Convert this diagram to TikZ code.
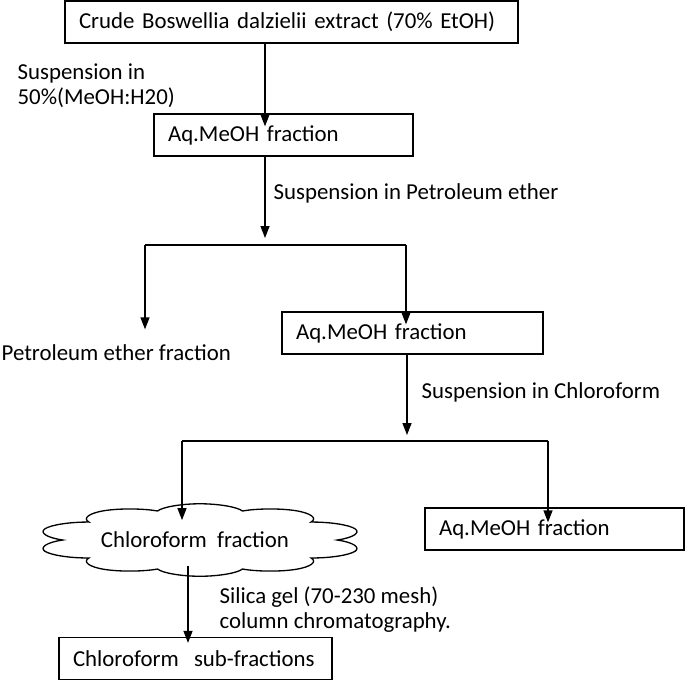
\documentclass[tikz,border=0pt]{standalone}
\usepackage{fontspec}
\setmainfont{Carlito}
\usepackage{tikz}
\usetikzlibrary{arrows.meta}
\usetikzlibrary{shapes.symbols}

\begin{document}
\begin{tikzpicture}[%
x=0.02cm, y=-0.02cm, >={Triangle[length=0.24cm,width=0.18cm]},
font=\fontsize{13}{14.2}\selectfont, line width=0.75pt,
box/.style={draw, align=left, inner xsep=0.28cm, inner ysep=0pt, minimum height=0.84cm},
note/.style={anchor=west, align=left, inner sep=0pt},
puff/.style={draw, shape=cloud, cloud puffs=10, cloud puff arc=150, cloud ignores aspect, minimum width=1.45cm, minimum height=1.45cm, inner sep=0pt, xscale=4.5, transform shape}
]
\useasboundingbox (0,0) rectangle (685,681);
\node[box,text width=8.5cm] (crude) at (291.5,22) {Crude Boswellia dalzielii extract (70\% EtOH)};
\node[box,text width=4.62cm] (aq1) at (283.5,135) {Aq.MeOH fraction};
\node[note] (pet) at (1,353) {Petroleum ether fraction};
\node[box,text width=4.66cm] (aq2) at (412.5,333) {Aq.MeOH fraction};
\node[puff] (chl) at (200,540) {};
\node (chltxt) at (195,540) {Chloroform\ \ fraction};
\node[box,text width=4.62cm] (aq3) at (554.5,529) {Aq.MeOH fraction};
\node[box,text width=4.9cm] (sub) at (195.5,658.5) {Chloroform\ \ sub-fractions};
\node[note] (susp1) at (17,86) {Suspension in\\50\%(MeOH:H20)};
\node[note] (susp2) at (273,193) {Suspension in Petroleum ether};
\node[note] (susp3) at (421,392) {Suspension in Chloroform};
\node[note] (silica) at (219,610) {Silica gel (70-230 mesh)\\column chromatography.};
\coordinate (j1) at (265,245);
\coordinate (jl1) at (145,245);
\coordinate (jr1) at (406,245);
\coordinate (j2) at (407,441);
\coordinate (jl2) at (182,441);
\coordinate (jr2) at (548,441);
\coordinate (j3) at (188,600);
\draw[->,shorten >=-0.26cm] (crude.south -| j1) -- (aq1.north -| j1);
\draw[->] (aq1.south -| j1) -- ([yshift=0.14cm]j1);
\draw (jl1) -- (jr1);
\draw[->,shorten >=0.3cm] (jl1) -- (jl1 |- pet.north);
\draw[->,shorten >=-0.26cm] (jr1) -- (aq2.north -| jr1);
\draw[->] (aq2.south -| j2) -- ([yshift=0.12cm]j2);
\draw (jl2) -- (jr2);
\draw[->,shorten >=-0.34cm] (jl2) -- (chl.north -| jl2);
\draw[->,shorten >=-0.3cm] (jr2) -- (aq3.north -| jr2);
\draw[->,shorten <=-0.22cm,shorten >=-0.12cm] (chl.south -| j3) -- (sub.north -| j3);
\end{tikzpicture}
\end{document}
